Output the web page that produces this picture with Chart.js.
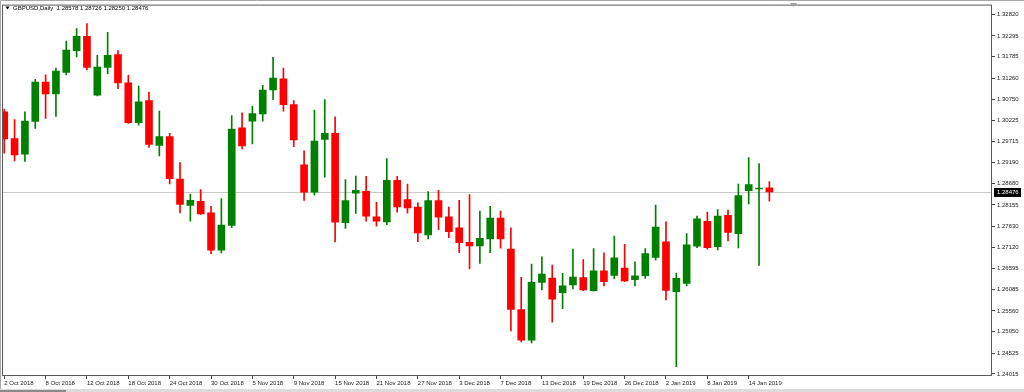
<!DOCTYPE html>
<html>
<head>
<meta charset="utf-8">
<title>GBPUSD,Daily</title>
<script src="https://cdn.jsdelivr.net/npm/chart.js@4.4.1/dist/chart.umd.min.js"></script>
<style>
  html, body { margin: 0; padding: 0; background: #fff; }
  #wrap { position: relative; width: 1024px; height: 392px; }
</style>
</head>
<body>
<div id="wrap"><canvas id="chart"></canvas></div>
<script>
// GBPUSD daily bars, 2 Oct 2018 - 16 Jan 2019
const symbolTitle = 'GBPUSD,Daily';

const dates = [
  '2 Oct 2018', '3 Oct 2018', '4 Oct 2018', '5 Oct 2018', '8 Oct 2018', '9 Oct 2018', '10 Oct 2018', '11 Oct 2018', '12 Oct 2018',
  '15 Oct 2018', '16 Oct 2018', '17 Oct 2018', '18 Oct 2018', '19 Oct 2018', '22 Oct 2018', '23 Oct 2018', '24 Oct 2018',
  '25 Oct 2018', '26 Oct 2018', '29 Oct 2018', '30 Oct 2018', '31 Oct 2018', '1 Nov 2018', '2 Nov 2018', '5 Nov 2018',
  '6 Nov 2018', '7 Nov 2018', '8 Nov 2018', '9 Nov 2018', '12 Nov 2018', '13 Nov 2018', '14 Nov 2018', '15 Nov 2018',
  '16 Nov 2018', '19 Nov 2018', '20 Nov 2018', '21 Nov 2018', '22 Nov 2018', '23 Nov 2018', '26 Nov 2018', '27 Nov 2018',
  '28 Nov 2018', '29 Nov 2018', '30 Nov 2018', '3 Dec 2018', '4 Dec 2018', '5 Dec 2018', '6 Dec 2018', '7 Dec 2018',
  '10 Dec 2018', '11 Dec 2018', '12 Dec 2018', '13 Dec 2018', '14 Dec 2018', '17 Dec 2018', '18 Dec 2018', '19 Dec 2018',
  '20 Dec 2018', '21 Dec 2018', '24 Dec 2018', '26 Dec 2018', '27 Dec 2018', '28 Dec 2018', '31 Dec 2018', '2 Jan 2019',
  '3 Jan 2019', '4 Jan 2019', '7 Jan 2019', '8 Jan 2019', '9 Jan 2019', '10 Jan 2019', '11 Jan 2019', '14 Jan 2019',
  '15 Jan 2019', '16 Jan 2019'
];

const opens = [
  1.30436, 1.29779, 1.29398, 1.30200, 1.31166, 1.30874, 1.31402, 1.31937, 1.32285, 1.30842,
  1.31524, 1.31840, 1.31149, 1.30169, 1.30711, 1.29616, 1.29828, 1.28789, 1.28142, 1.28247,
  1.27962, 1.27048, 1.27656, 1.30047, 1.30210, 1.30388, 1.30971, 1.31246, 1.30614, 1.29140,
  1.28466, 1.29762, 1.29908, 1.27719, 1.28442, 1.28490, 1.27865, 1.27743, 1.28758, 1.28288,
  1.28101, 1.27420, 1.28264, 1.27865, 1.27597, 1.27242, 1.27152, 1.27323, 1.27833, 1.27072,
  1.25596, 1.24841, 1.26260, 1.26367, 1.26009, 1.26196, 1.26374, 1.26058, 1.26544, 1.26430,
  1.26610, 1.26325, 1.26422, 1.26868, 1.27250, 1.26033, 1.26235, 1.27145, 1.27753, 1.27135,
  1.27899, 1.27452, 1.28507, 1.28546, 1.28578
];

const highs = [
  1.30502, 1.30249, 1.30436, 1.31232, 1.31344, 1.31506, 1.32171, 1.32479, 1.32601, 1.31823,
  1.32382, 1.31937, 1.31329, 1.31069, 1.30923, 1.30453, 1.29908, 1.29196, 1.28425, 1.28532,
  1.28125, 1.28313, 1.30346, 1.30412, 1.30575, 1.31086, 1.31774, 1.31506, 1.30711, 1.29480,
  1.30478, 1.30735, 1.30315, 1.28775, 1.28862, 1.28855, 1.28223, 1.29293, 1.28855, 1.28668,
  1.28206, 1.28483, 1.28515, 1.28101, 1.28271, 1.28410, 1.28004, 1.28125, 1.28004, 1.27597,
  1.26381, 1.26707, 1.26885, 1.26683, 1.26479, 1.27072, 1.26819, 1.27087, 1.26982, 1.27396,
  1.27194, 1.26763, 1.27087, 1.28150, 1.27743, 1.26488, 1.27452, 1.27882, 1.27979, 1.28045,
  1.28028, 1.28668, 1.29317, 1.29171, 1.28726
];

const lows = [
  1.29422, 1.29237, 1.29220, 1.30030, 1.30273, 1.30322, 1.31344, 1.31781, 1.31465, 1.30825,
  1.31368, 1.31003, 1.30150, 1.30113, 1.29568, 1.29359, 1.28668, 1.27962, 1.27760, 1.27923,
  1.26965, 1.26982, 1.27597, 1.29529, 1.29650, 1.30210, 1.30735, 1.30453, 1.29585, 1.28264,
  1.28393, 1.28838, 1.27250, 1.27583, 1.27948, 1.27760, 1.27639, 1.27670, 1.27979, 1.27955,
  1.27257, 1.27323, 1.27549, 1.27354, 1.26989, 1.26586, 1.26722, 1.26989, 1.27096, 1.25068,
  1.24800, 1.24776, 1.26075, 1.25287, 1.25613, 1.26099, 1.26058, 1.26046, 1.26172, 1.26350,
  1.26277, 1.26172, 1.26357, 1.26804, 1.25831, 1.24192, 1.26172, 1.27111, 1.27072, 1.27055,
  1.27274, 1.27104, 1.28181, 1.26673, 1.28250
];

const closes = [
  1.29772, 1.29383, 1.30210, 1.31166, 1.30874, 1.31434, 1.31952, 1.32285, 1.31524, 1.31531,
  1.31823, 1.31142, 1.30169, 1.30679, 1.29641, 1.29828, 1.28799, 1.28167, 1.28271, 1.27938,
  1.27048, 1.27663, 1.30015, 1.29602, 1.30395, 1.30971, 1.31263, 1.30614, 1.29748, 1.28466,
  1.29723, 1.29908, 1.27736, 1.28264, 1.28515, 1.27882, 1.27760, 1.28758, 1.28108, 1.28084,
  1.27469, 1.28264, 1.27858, 1.27500, 1.27232, 1.27152, 1.27340, 1.27833, 1.27323, 1.25596,
  1.24841, 1.26260, 1.26464, 1.25846, 1.26172, 1.26391, 1.26075, 1.26544, 1.26277, 1.26860,
  1.26294, 1.26422, 1.26965, 1.27614, 1.26065, 1.26357, 1.27177, 1.27816, 1.27111, 1.27882,
  1.27486, 1.28386, 1.28653, 1.28570, 1.28476
];

const xTickLabels = [
  '2 Oct 2018', '8 Oct 2018', '12 Oct 2018', '18 Oct 2018', '24 Oct 2018', '30 Oct 2018', '5 Nov 2018',
  '9 Nov 2018', '15 Nov 2018', '21 Nov 2018', '27 Nov 2018', '3 Dec 2018', '7 Dec 2018', '13 Dec 2018',
  '19 Dec 2018', '26 Dec 2018', '2 Jan 2019', '8 Jan 2019', '14 Jan 2019'
];

const yTickLabels = [
  1.32820, 1.32295, 1.31785, 1.31260, 1.30750, 1.30225, 1.29715, 1.29190, 1.28680,
  1.28155, 1.27630, 1.27120, 1.26595, 1.26085, 1.25560, 1.25050, 1.24525, 1.24015
];

const BULL = '#008000';
const BEAR = '#ff0000';
const FONT = '"Liberation Sans", Arial, sans-serif';
const last = closes.length - 1;
const xTickIdx = xTickLabels.map(l => dates.indexOf(l));

function candleColor(ctx) {
  const i = ctx.dataIndex;
  return closes[i] >= opens[i] ? BULL : BEAR;
}

// frame, bid line, header text and price box like the terminal window
const terminalLook = {
  id: 'terminalLook',
  beforeDatasetsDraw(chart) {
    const { ctx, chartArea: a } = chart;
    const yp = Math.round(chart.scales.y.getPixelForValue(closes[last])) + 0.5;
    ctx.save();
    ctx.strokeStyle = '#c8c8c8';
    ctx.lineWidth = 1;
    ctx.beginPath();
    ctx.moveTo(a.left, yp);
    ctx.lineTo(a.right, yp);
    ctx.stroke();
    ctx.restore();
  },
  afterDraw(chart) {
    const { ctx, chartArea: a } = chart;
    ctx.save();
    ctx.lineWidth = 1;
    ctx.strokeStyle = '#a8a8a8';
    ctx.beginPath();
    ctx.moveTo(0.5, 392); ctx.lineTo(0.5, 0.5); ctx.lineTo(1024, 0.5);
    ctx.stroke();
    ctx.strokeStyle = '#5a5a5a';
    ctx.strokeRect(a.left - 0.5, a.top - 0.5, a.right - a.left, a.bottom - a.top);

    // bottom window strip
    ctx.fillStyle = '#dcdcdc';
    ctx.fillRect(0, 389, 1024, 3);
    ctx.fillStyle = '#8a8a8a';
    ctx.fillRect(0, 390, 66, 2);

    // header
    ctx.fillStyle = '#000';
    ctx.beginPath();
    ctx.moveTo(5.5, 6.5); ctx.lineTo(9.5, 6.5); ctx.lineTo(7.5, 9.5);
    ctx.closePath();
    ctx.fill();
    ctx.font = '6px ' + FONT;
    ctx.textBaseline = 'middle';
    ctx.textAlign = 'left';
    const ohlc = [opens[last], highs[last], lows[last], closes[last]].map(v => v.toFixed(5)).join(' ');
    ctx.fillText(symbolTitle + '  ' + ohlc, 13, 8);

    // chart shift marker
    ctx.fillStyle = '#a0a0a0';
    ctx.beginPath();
    ctx.moveTo(790, 3); ctx.lineTo(797, 3); ctx.lineTo(793.5, 7);
    ctx.closePath();
    ctx.fill();

    // bid price box
    const yp = chart.scales.y.getPixelForValue(closes[last]);
    ctx.fillStyle = '#000';
    ctx.fillRect(a.right + 2, Math.round(yp) - 4, 27, 9);
    ctx.fillStyle = '#fff';
    ctx.fillText(closes[last].toFixed(5), a.right + 5, Math.round(yp) + 0.5);
    ctx.restore();
  }
};

new Chart(document.getElementById('chart'), {
  type: 'bar',
  data: {
    datasets: [
      {
        label: 'Body',
        data: opens.map((o, i) => ({ x: i, y: [o, closes[i]] })),
        backgroundColor: candleColor,
        borderWidth: 0,
        barThickness: 7,
        minBarLength: 1,
        grouped: false,
        order: 0
      },
      {
        label: 'Wick',
        data: lows.map((l, i) => ({ x: i, y: [l, highs[i]] })),
        backgroundColor: candleColor,
        borderWidth: 0,
        barThickness: 1,
        grouped: false,
        order: 1
      }
    ]
  },
  options: {
    responsive: true,
    maintainAspectRatio: false,
    animation: false,
    layout: { padding: { left: 3, top: 3, right: 0, bottom: 0 } },
    plugins: { legend: { display: false }, tooltip: { enabled: false } },
    scales: {
      x: {
        type: 'linear',
        position: 'bottom',
        min: -0.12,
        max: 95.53,
        offset: false,
        grid: { offset: false, drawOnChartArea: false, drawTicks: true, tickLength: 3, color: '#444' },
        border: { display: false },
        afterBuildTicks: scale => { scale.ticks = xTickIdx.map(v => ({ value: v })); },
        afterFit: scale => { scale.height = 16; },
        ticks: {
          autoSkip: false,
          maxRotation: 0,
          minRotation: 0,
          align: 'start',
          padding: 1,
          color: '#222',
          font: { family: FONT, size: 6 },
          callback: (value, index) => xTickLabels[index]
        }
      },
      y: {
        type: 'linear',
        position: 'right',
        min: 1.23966,
        max: 1.33039,
        beginAtZero: false,
        grid: { drawOnChartArea: false, drawTicks: true, tickLength: 3, color: '#444' },
        border: { display: false },
        afterBuildTicks: scale => { scale.ticks = yTickLabels.map(v => ({ value: v })); },
        afterFit: scale => { scale.width = 32; },
        ticks: {
          padding: 2,
          color: '#222',
          font: { family: FONT, size: 6 },
          callback: value => value.toFixed(5)
        }
      }
    }
  },
  plugins: [terminalLook]
});
</script>
</body>
</html>
